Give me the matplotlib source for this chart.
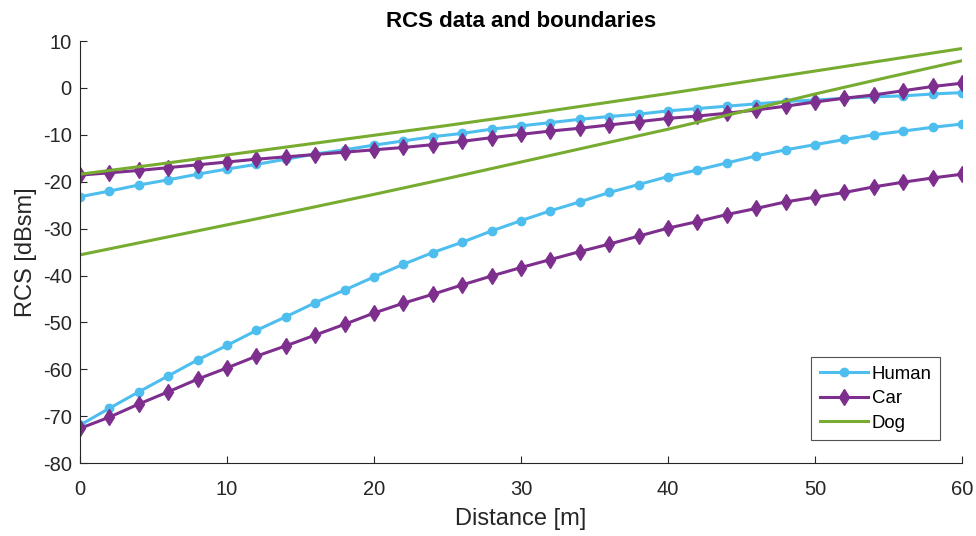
import numpy as np
import matplotlib
matplotlib.use("Agg")
import matplotlib.pyplot as plt

plt.rcParams["font.family"] = ["Liberation Sans", "DejaVu Sans"]
plt.rcParams["axes.unicode_minus"] = False

# Measured RCS samples, every 2 m
distance = np.arange(0, 61, 2)
human_upper = [-23.2, -22.0, -20.7, -19.6, -18.4, -17.3, -16.3, -15.2, -14.1, -13.2,
               -12.2, -11.3, -10.4, -9.7, -8.8, -8.1, -7.4, -6.7, -6.1, -5.6,
               -4.9, -4.4, -3.9, -3.4, -2.9, -2.6, -2.2, -1.9, -1.7, -1.3, -1.0]
human_lower = [-71.9, -68.3, -64.8, -61.4, -58.0, -54.9, -51.7, -48.8, -45.8, -43.1,
               -40.3, -37.6, -35.1, -32.9, -30.5, -28.3, -26.2, -24.3, -22.3, -20.6,
               -18.9, -17.5, -16.0, -14.5, -13.2, -12.1, -11.0, -10.0, -9.2, -8.4, -7.7]
car_upper = [-18.6, -18.1, -17.6, -17.0, -16.4, -15.8, -15.2, -14.7, -14.2, -13.7,
             -13.2, -12.7, -12.1, -11.4, -10.6, -9.9, -9.2, -8.6, -7.9, -7.2,
             -6.5, -6.0, -5.4, -4.7, -3.9, -3.0, -2.2, -1.5, -0.6, 0.3, 1.0]
car_lower = [-72.6, -70.2, -67.4, -64.8, -62.1, -59.7, -57.2, -55.0, -52.7, -50.4,
             -48.0, -45.9, -44.0, -42.0, -40.1, -38.3, -36.6, -34.9, -33.3, -31.6,
             -29.9, -28.5, -27.0, -25.7, -24.3, -23.3, -22.3, -21.1, -20.1, -19.2, -18.4]

# Dog boundaries (no markers), every 5 m
dog_distance = np.arange(0, 61, 5)
dog_upper = [-18.4, -16.4, -14.3, -12.2, -10.1, -8.0, -5.8, -3.5, -1.2, 1.2, 3.6, 6.0, 8.4]
dog_lower = [-35.6, -32.4, -29.2, -26.0, -22.7, -19.3, -15.8, -12.3, -8.8, -5.1, -1.3, 2.3, 5.8]

c_human = "#4DBEEE"
c_car = "#7E2F8E"
c_dog = "#77AC30"
c_axis = "#262626"

fig = plt.figure(figsize=(9.76, 5.36), dpi=100)
ax = fig.add_axes([0.082, 0.136, 0.9037, 0.7875])

lw = 2.2
ax.plot(distance, human_upper, color=c_human, lw=lw, marker="o", ms=6, label="Human")
ax.plot(distance, human_lower, color=c_human, lw=lw, marker="o", ms=6)
ax.plot(distance, car_upper, color=c_car, lw=lw, marker="d", ms=8.5, label="Car")
ax.plot(distance, car_lower, color=c_car, lw=lw, marker="d", ms=8.5)
ax.plot(dog_distance, dog_upper, color=c_dog, lw=lw, label="Dog")
ax.plot(dog_distance, dog_lower, color=c_dog, lw=lw)

ax.set_xlim(0, 60)
ax.set_ylim(-80, 10)
ax.set_xticks(np.arange(0, 61, 10))
ax.set_yticks(np.arange(-80, 11, 10))

for side in ("top", "right"):
    ax.spines[side].set_visible(False)
for side in ("left", "bottom"):
    ax.spines[side].set_color(c_axis)
    ax.spines[side].set_linewidth(0.8)
ax.tick_params(direction="in", length=5, width=0.8, colors=c_axis,
               labelsize=14.5, labelcolor=c_axis)
ax.tick_params(axis="x", pad=12)
ax.tick_params(axis="y", pad=6)

ax.set_xlabel("Distance [m]", fontsize=17, color=c_axis, labelpad=7)
ax.set_ylabel("RCS [dBsm]", fontsize=17, color=c_axis, labelpad=4)
ax.set_title("RCS data and boundaries", fontsize=16, fontweight="bold",
             color="black", pad=10)

leg = ax.legend(loc="lower right", bbox_to_anchor=(0.975, 0.055), fontsize=13.4,
                frameon=True, fancybox=False, handlelength=2.6,
                borderpad=0.45, labelspacing=0.4, handletextpad=0.2,
                borderaxespad=0)
leg.get_frame().set_edgecolor(c_axis)
leg.get_frame().set_linewidth(0.8)

fig.savefig("out.png", dpi=100)
